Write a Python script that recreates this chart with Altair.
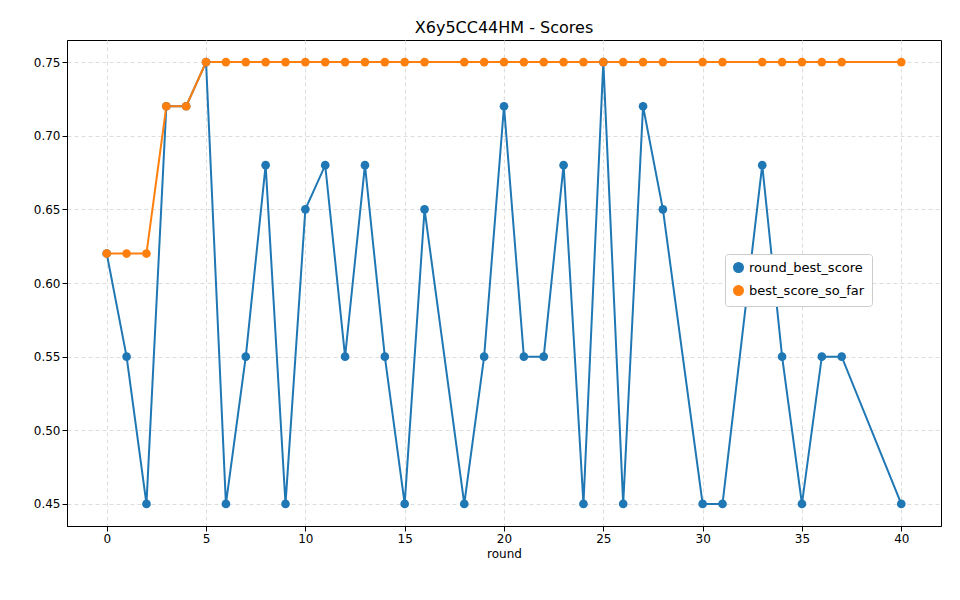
import pandas as pd
import altair as alt

rounds = [0, 1, 2, 3, 4, 5, 6, 7, 8, 9, 10, 11, 12, 13, 14, 15, 16, 18, 19, 20,
          21, 22, 23, 24, 25, 26, 27, 28, 30, 31, 33, 34, 35, 36, 37, 40]
round_best_score = [0.62, 0.55, 0.45, 0.72, 0.72, 0.75, 0.45, 0.55, 0.68, 0.45,
                    0.65, 0.68, 0.55, 0.68, 0.55, 0.45, 0.65, 0.45, 0.55, 0.72,
                    0.55, 0.55, 0.68, 0.45, 0.75, 0.45, 0.72, 0.65, 0.45, 0.45,
                    0.68, 0.55, 0.45, 0.55, 0.55, 0.45]
best_score_so_far = [0.62, 0.62, 0.62, 0.72, 0.72] + [0.75] * 31

df = pd.DataFrame({"round": rounds,
                   "round_best_score": round_best_score,
                   "best_score_so_far": best_score_so_far})
long = df.melt(id_vars="round", var_name="series", value_name="score")
order = {"round_best_score": 0, "best_score_so_far": 1}
long["o"] = long["series"].map(order)

color = alt.Color("series:N",
                  scale=alt.Scale(domain=["round_best_score", "best_score_so_far"],
                                  range=["#1f77b4", "#ff7f0e"]),
                  legend=alt.Legend(title=None, orient="none", legendX=658, legendY=214,
                                    symbolType="circle", symbolSize=90, labelFontSize=13,
                                    labelFont="DejaVu Sans", fillColor="white",
                                    strokeColor="#cccccc", padding=7, cornerRadius=3,
                                    rowPadding=6))

base = alt.Chart(long).encode(
    x=alt.X("round:Q", title="round", scale=alt.Scale(domain=[-2, 42], nice=False),
            axis=alt.Axis(values=list(range(0, 41, 5)))),
    y=alt.Y("score:Q", title=None, scale=alt.Scale(domain=[0.435, 0.765], nice=False, zero=False),
            axis=alt.Axis(values=[0.45, 0.5, 0.55, 0.6, 0.65, 0.7, 0.75], format=".2f")),
    color=color,
    order="o:Q",
)

lines = base.mark_line(strokeWidth=2)
pts = base.mark_circle(size=75, opacity=1)

chart = (lines + pts).properties(
    width=874, height=486,
    padding={"left": 25, "top": 12, "right": 5, "bottom": 5},
    title=alt.TitleParams("X6y5CC44HM - Scores", fontSize=16, fontWeight="normal",
                          font="DejaVu Sans"),
).configure_axis(
    grid=True, gridDash=[4, 3], gridColor="#dddddd", domainColor="black",
    tickColor="black", labelColor="black", labelFontSize=12, labelFont="DejaVu Sans",
    titleFont="DejaVu Sans", titleFontSize=12, titleFontWeight="normal",
).configure_view(stroke="black")

chart.save("out.html", embed_options={"renderer": "svg", "actions": False})
